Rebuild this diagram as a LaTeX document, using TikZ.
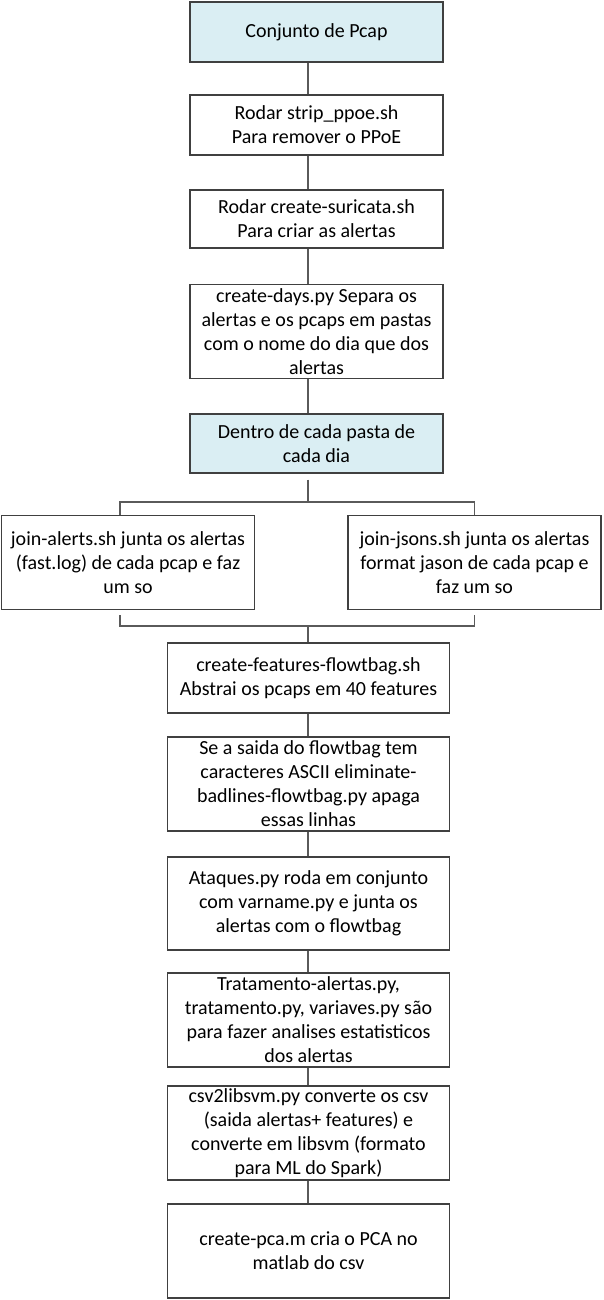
\documentclass[tikz,border=0pt]{standalone}
\usepackage{fontspec}
\setmainfont{Carlito}
\definecolor{boxline}{HTML}{404040}
\definecolor{linkline}{HTML}{5A5A5A}
\definecolor{stepfill}{HTML}{DAEEF3}
\tikzset{
  stepbox/.style={draw=boxline, line width=1.2pt, fill=white, align=center,
    minimum width=253pt, minimum height=60pt, inner sep=1pt,
    font=\fontsize{20}{24}\selectfont},
  widebox/.style={stepbox, minimum width=282pt, minimum height=94pt},
  headbox/.style={stepbox, fill=stepfill},
  link/.style={draw=linkline, line width=1.6pt}
}
\begin{document}
\begin{tikzpicture}[x=1pt,y=-1pt]
            \useasboundingbox (0,0) rectangle (603,1300);
            % Spine and buses
            \coordinate (spine) at (308,0);
            \coordinate (topbus) at (0,502);
            \coordinate (botbus) at (0,626);
            % Upper steps
            \node[headbox] (pcap) at (316.5,32) {Conjunto de Pcap};
            \node[stepbox] (ppoe) at (316.5,125) {Rodar strip\_ppoe.sh\\Para remover o PPoE};
            \node[stepbox, minimum height=58pt] (suricata) at (316.5,219) {Rodar create-suricata.sh\\Para criar as alertas};
            \node[stepbox, minimum height=94pt] (days) at (316.5,331.5) {create-days.py Separa os\\alertas e os pcaps em pastas\\com o nome do dia que dos\\alertas};
            \node[headbox, minimum height=59pt] (pasta) at (316.5,443.5) {Dentro de cada pasta de\\cada dia};
            % Two branches
            \node[stepbox, minimum height=94pt] (alerts) at (128,562.5) {join-alerts.sh junta os alertas\\(fast.log) de cada pcap e faz\\um so};
            \node[stepbox, minimum height=94pt] (jsons) at (474.5,562.5) {join-jsons.sh junta os alertas\\format jason de cada pcap e\\faz um so};
            % Lower steps
            \node[widebox, minimum height=70pt] (features) at (308.5,678) {create-features-flowtbag.sh\\Abstrai os pcaps em 40 features};
            \node[widebox] (badlines) at (308.5,784) {Se a saida do flowtbag tem\\caracteres ASCII eliminate-\\badlines-flowtbag.py apaga\\essas linhas};
            \node[widebox, minimum height=93pt] (ataques) at (308.5,903.5) {Ataques.py roda em conjunto\\com varname.py e junta os\\alertas com o flowtbag};
            \node[widebox] (tratamento) at (308.5,1020) {Tratamento-alertas.py,\\tratamento.py, variaves.py são\\para fazer analises estatisticos\\dos alertas};
            \node[widebox] (libsvm) at (308.5,1133) {csv2libsvm.py converte os csv\\(saida alertas+ features) e\\converte em libsvm (formato\\para ML do Spark)};
            \node[widebox] (pca) at (308.5,1251) {create-pca.m cria o PCA no\\matlab do csv};
            % Connectors
            \foreach \a/\b in {pcap/ppoe, ppoe/suricata, suricata/days, days/pasta,
                               features/badlines, badlines/ataques, ataques/tratamento,
                               tratamento/libsvm, libsvm/pca} {
                    \draw[link] (\a.south -| spine) -- (\b.north -| spine);
                }
            \draw[link] ([yshift=-6pt]pasta.south -| spine) -- (spine |- topbus);
            \draw[link] ([xshift=-8pt]alerts.north) -- ([xshift=-8pt]alerts.north |- topbus) -| (jsons.north);
            \draw[link] ([xshift=-8pt,yshift=-5pt]alerts.south) -- ([xshift=-8pt]alerts.south |- botbus) -| ([yshift=-5pt]jsons.south);
            \draw[link] (spine |- botbus) -- (features.north -| spine);
\end{tikzpicture}
\end{document}
